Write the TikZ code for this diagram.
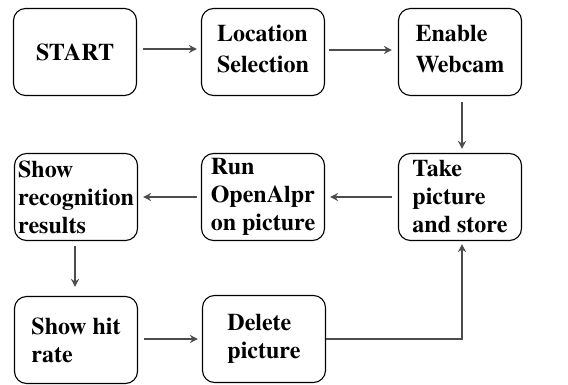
\documentclass[tikz,border=0pt]{standalone}
\usepackage{fontspec}
\setmainfont{texgyretermes}[Extension=.otf, UprightFont=*-regular, BoldFont=*-bold, ItalicFont=*-italic, BoldItalicFont=*-bolditalic]
\usetikzlibrary{arrows.meta}
\begin{document}
\begin{tikzpicture}[x=1pt,y=-1pt,
  box/.style={draw=black, line width=1.1pt, rounded corners=12pt,
    minimum width=123pt, minimum height=87pt, inner sep=0pt,
    align=left, font=\fontsize{24}{28}\selectfont\bfseries},
  toprow/.style={font=\fontsize{24}{31}\selectfont\bfseries, text depth=7pt},
  arr/.style={draw=black!70, line width=1.6pt, -{Stealth[length=8pt,width=8pt]}}]
\useasboundingbox (0,0) rectangle (568,385);
\node[box] (start) at (75,52) {START};
\node[box, toprow] (loc) at (263,52) {Location\\Selection};
\node[box, toprow] (cam) at (460,52) {Enable\\Webcam};
\node[box] (show) at (76,197) {Show\\recognition\\results};
\node[box] (run) at (263,197) {Run\\OpenAlpr\\on picture};
\node[box] (take) at (460,197) {Take\\picture\\and store};
\node[box] (hit) at (76,340) {Show hit\\rate};
\node[box] (del) at (264,339) {Delete\\picture};
\coordinate (corner) at (462,339);
\draw[arr, shorten <=6pt, shorten >=4pt] ([yshift=3pt]start.east) -- ([yshift=3pt]loc.west);
\draw[arr, shorten <=4pt, shorten >=6pt] ([yshift=2pt]loc.east) -- ([yshift=2pt]cam.west);
\draw[arr, shorten <=6pt, shorten >=4pt] ([xshift=2pt]cam.south) -- ([xshift=2pt]take.north);
\draw[arr, shorten <=6pt, shorten >=5pt] (take.west) -- (run.east);
\draw[arr, shorten <=4pt, shorten >=5pt] (run.west) -- (show.east);
\draw[arr, shorten <=5pt, shorten >=9pt] ([xshift=-1pt]show.south) -- ([xshift=-1pt]hit.north);
\draw[arr, shorten <=6pt, shorten >=4pt] (hit.east |- del.east) -- (del.west);
\draw[arr, shorten >=3pt] (del.east) -- (corner) -- (corner |- take.south);
\end{tikzpicture}
\end{document}
